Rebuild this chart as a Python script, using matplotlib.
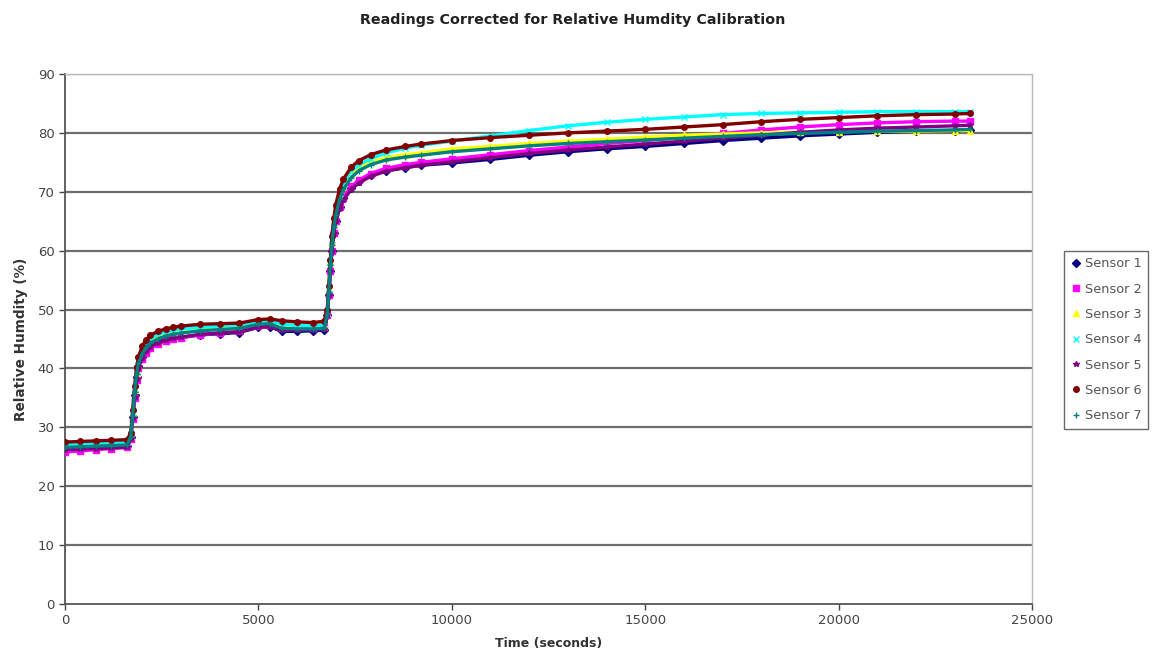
import matplotlib
matplotlib.use("Agg")
import matplotlib.pyplot as plt
from matplotlib.lines import Line2D

time_s = [0, 400, 800, 1200, 1600, 1700, 1750, 1800, 1850, 1900,
          2000, 2100, 2200, 2400, 2600, 2800, 3000, 3500, 4000, 4500,
          5000, 5300, 5600, 6000, 6400, 6700, 6780, 6820, 6860, 6900,
          6950, 7000, 7100, 7200, 7400, 7600, 7900, 8300, 8800, 9200,
          10000, 11000, 12000, 13000, 14000, 15000, 16000, 17000, 18000, 19000,
          20000, 21000, 22000, 23000, 23400]

sensor1 = [26.5, 26.6, 26.7, 26.8, 26.9, 28.3, 31.8, 35.5, 38.5, 40.5,
           42.0, 43.0, 43.8, 44.5, 44.9, 45.2, 45.3, 45.7, 45.9, 46.1,
           47.0, 47.1, 46.3, 46.3, 46.4, 46.5, 49.0, 52.5, 56.5, 60.0,
           63.0, 65.0, 67.4, 68.9, 70.7, 71.8, 72.8, 73.6, 74.1, 74.5,
           74.9, 75.5, 76.2, 76.8, 77.3, 77.7, 78.2, 78.7, 79.1, 79.5,
           79.8, 80.1, 80.3, 80.4, 80.5]
sensor2 = [25.8, 26.0, 26.2, 26.4, 26.6, 28.0, 31.5, 35.0, 38.0, 40.0,
           41.6, 42.7, 43.5, 44.2, 44.7, 45.0, 45.2, 45.7, 46.0, 46.3,
           47.2, 47.3, 46.8, 46.8, 46.9, 47.0, 49.0, 52.5, 56.5, 60.0,
           63.0, 65.0, 67.5, 69.0, 70.9, 72.0, 73.1, 74.0, 74.6, 75.0,
           75.6, 76.3, 77.0, 77.6, 78.2, 78.7, 79.3, 79.9, 80.5, 81.0,
           81.4, 81.7, 81.9, 82.0, 82.0]
sensor3 = [26.9, 27.0, 27.1, 27.2, 27.3, 28.6, 32.3, 36.3, 39.3, 41.2,
           42.9, 44.1, 44.9, 45.6, 46.0, 46.4, 46.6, 46.9, 47.1, 47.2,
           47.9, 48.0, 47.4, 47.3, 47.3, 47.5, 49.5, 53.5, 58.0, 61.5,
           64.5, 66.7, 69.4, 71.0, 73.0, 74.1, 75.0, 75.8, 76.3, 76.6,
           77.3, 77.7, 78.2, 78.6, 78.9, 79.3, 79.6, 79.8, 80.0, 80.1,
           80.2, 80.3, 80.3, 80.4, 80.4]
sensor4 = [27.1, 27.2, 27.3, 27.4, 27.5, 28.8, 32.5, 36.5, 39.5, 41.5,
           43.2, 44.3, 45.0, 45.8, 46.2, 46.5, 46.7, 47.0, 47.2, 47.4,
           48.0, 48.1, 47.5, 47.3, 47.2, 47.4, 49.5, 53.5, 58.0, 61.8,
           64.8, 67.0, 69.8, 71.5, 73.5, 74.6, 75.6, 76.6, 77.4, 77.9,
           78.6, 79.5, 80.4, 81.2, 81.8, 82.3, 82.7, 83.1, 83.3, 83.4,
           83.5, 83.6, 83.6, 83.6, 83.6]
sensor5 = [26.2, 26.3, 26.4, 26.5, 26.6, 28.1, 31.6, 35.2, 38.2, 40.2,
           41.8, 42.9, 43.6, 44.4, 44.8, 45.1, 45.3, 45.8, 46.0, 46.2,
           47.0, 47.1, 46.5, 46.5, 46.6, 46.7, 49.0, 52.5, 56.5, 60.0,
           63.0, 65.0, 67.2, 68.6, 70.4, 71.5, 72.6, 73.5, 74.1, 74.5,
           75.1, 75.8, 76.5, 77.1, 77.6, 78.1, 78.6, 79.1, 79.6, 80.1,
           80.5, 80.8, 81.0, 81.2, 81.3]
sensor6 = [27.5, 27.6, 27.7, 27.8, 27.9, 29.0, 33.0, 37.0, 40.0, 42.0,
           43.8, 44.9, 45.6, 46.3, 46.7, 47.0, 47.2, 47.5, 47.6, 47.7,
           48.3, 48.4, 48.1, 47.9, 47.8, 48.0, 50.0, 54.0, 58.5, 62.5,
           65.5, 67.8, 70.5, 72.2, 74.2, 75.3, 76.3, 77.1, 77.7, 78.1,
           78.7, 79.2, 79.6, 80.0, 80.3, 80.6, 81.0, 81.4, 81.9, 82.3,
           82.6, 82.9, 83.1, 83.2, 83.3]
sensor7 = [26.6, 26.7, 26.8, 26.9, 27.0, 28.4, 32.0, 36.0, 39.0, 40.9,
           42.5, 43.6, 44.3, 45.0, 45.5, 45.8, 46.0, 46.4, 46.6, 46.8,
           47.5, 47.6, 46.8, 46.7, 46.7, 46.8, 49.2, 53.0, 57.5, 61.0,
           64.0, 66.0, 68.7, 70.4, 72.4, 73.6, 74.6, 75.4, 75.9, 76.2,
           76.8, 77.3, 77.8, 78.2, 78.5, 78.8, 79.1, 79.4, 79.7, 79.9,
           80.1, 80.3, 80.4, 80.5, 80.6]

labels = ["Sensor 1", "Sensor 2", "Sensor 3", "Sensor 4", "Sensor 5", "Sensor 6", "Sensor 7"]
series = [sensor1, sensor2, sensor3, sensor4, sensor5, sensor6, sensor7]
colors = ["#000080", "#FF00FF", "#FFFF00", "#00FFFF", "#800080", "#800000", "#008080"]
markers = ["D", "s", "^", "x", "*", "o", "+"]

xticks = [0, 5000, 10000, 15000, 20000, 25000]
yticks = [0, 10, 20, 30, 40, 50, 60, 70, 80, 90]

fig = plt.figure(figsize=(11.52, 6.66), dpi=100)
ax = fig.add_axes([65/1152, 62/666, (1032-65)/1152, (604-74)/666])

for y in yticks[1:]:
    ax.axhline(y, color="#6e6e6e", lw=1.6, zorder=1)

for vals, c, m, lab in zip(series, colors, markers, labels):
    ax.plot(time_s, vals, color=c, lw=2.4, marker=m, ms=4, mew=1.0,
            mfc=c, mec=c, zorder=3, solid_capstyle="round")

ax.set_xlim(0, 25000)
ax.set_ylim(0, 90)
ax.set_xticks(xticks)
ax.set_yticks(yticks)
ax.tick_params(axis="both", labelsize=9.5, colors="#444444", length=4, width=1.0,
               direction="out")
for s in ["top", "right"]:
    ax.spines[s].set_color("#bbbbbb")
    ax.spines[s].set_linewidth(1.0)
for s in ["left", "bottom"]:
    ax.spines[s].set_color("#555555")
    ax.spines[s].set_linewidth(1.3)

ax.set_xlabel("Time (seconds)", fontsize=9, fontweight="bold", color="#333333", labelpad=7)
ax.set_ylabel("Relative Humdity (%)", fontsize=9.8, fontweight="bold", color="#333333", labelpad=7)
fig.text(573/1152, 1 - 20/666, "Readings Corrected for Relative Humdity Calibration",
         ha="center", va="center", fontsize=10.3, fontweight="bold", color="#222222")

handles = [Line2D([], [], ls="none", marker=m, color=c, mfc=c, mec=c, ms=4)
           for c, m in zip(colors, markers)]
leg = fig.legend(handles, labels, loc="upper left",
                 bbox_to_anchor=(1064/1152, 1 - 251/666), fontsize=9.3,
                 frameon=True, fancybox=False, edgecolor="#444444",
                 handlelength=0.8, handletextpad=0.3, labelspacing=0.95,
                 borderpad=0.5, borderaxespad=0)
for t in leg.get_texts():
    t.set_color("#555555")
leg.get_frame().set_linewidth(1.0)

fig.savefig("out.png", dpi=100, facecolor="white")
